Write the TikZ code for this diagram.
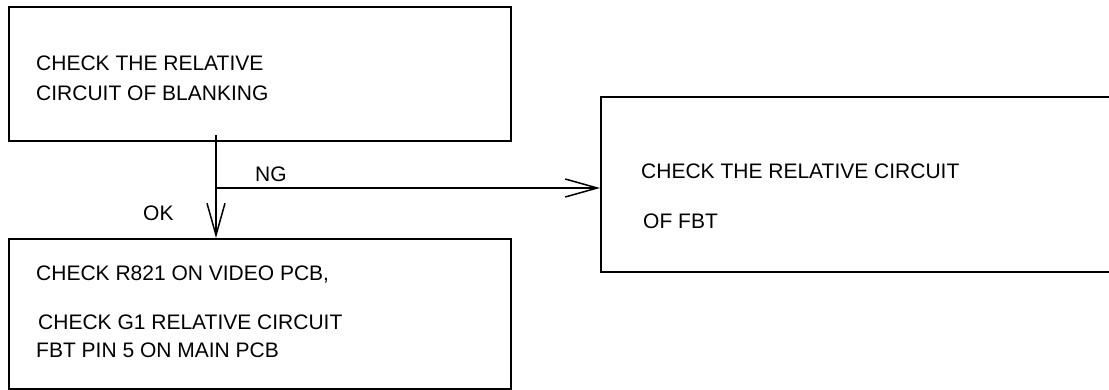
\documentclass[tikz,border=0pt]{standalone}
\usepackage{fontspec}
\setmainfont{Liberation Sans}
\usetikzlibrary{arrows.meta}

\begin{document}
\begin{tikzpicture}[x=1pt, y=-1pt,
    box/.style={draw, line width=2pt, rectangle, inner sep=0pt},
    txt/.style={anchor=base west, inner sep=0pt, font=\fontsize{21}{25}\selectfont},
    flow/.style={line width=1.5pt, -{Straight Barb[length=32pt, width=18pt, line width=1.5pt]}}]
    \useasboundingbox (0,0) rectangle (1109,390);
    \clip (0,0) rectangle (1109,390);

    % Cajas
    \node[box, minimum width=502pt, minimum height=134pt] (blank) at (260,74) {};
    \node[box, minimum width=502pt, minimum height=150pt] (video) at (260,314) {};
    \node[box, minimum width=524pt, minimum height=175pt] (fbt) at (863,184.5) {};

    % Textos de las cajas
    \node[txt] (blank1) at (36,71) {CHECK THE RELATIVE};
    \node[txt] (blank2) at (36,101) {CIRCUIT OF BLANKING};
    \node[txt] (video1) at (36,281) {CHECK R821 ON VIDEO PCB,};
    \node[txt] (video2) at (38,329) {CHECK G1 RELATIVE CIRCUIT};
    \node[txt] (video3) at (36,357) {FBT PIN 5 ON MAIN PCB};
    \node[txt] (fbt1) at (641,179) {CHECK THE RELATIVE CIRCUIT};
    \node[txt] (fbt2) at (643,229) {OF FBT};

    % Flechas
    \coordinate (stem) at (216,135);
    \coordinate (fork) at (216,188);
    \draw[flow] (stem) -- (stem |- video.north);
    \draw[flow] (fork) -- (fork -| fbt.west);

    % Etiquetas
    \node[txt] (ng) at (255,182) {NG};
    \node[txt] (ok) at (143,221) {OK};
\end{tikzpicture}
\end{document}
